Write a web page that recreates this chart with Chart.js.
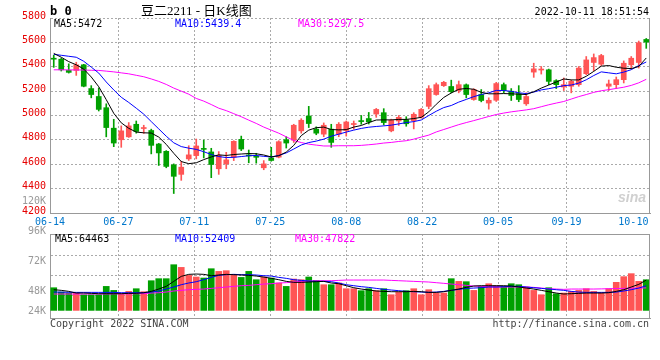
<!DOCTYPE html>
<html>
<head>
<meta charset="utf-8">
<script src="https://cdn.jsdelivr.net/npm/chart.js@4.4.1/dist/chart.umd.min.js"></script>
<style>
  body { margin: 0; background: #fff; }
  #box { position: relative; width: 660px; height: 360px; overflow: hidden; background: #fff;
         font: 10px/12px "DejaVu Sans Mono", monospace; color: #000; }
  #box canvas { position: absolute; left: 0; top: 0; }
  .t { position: absolute; white-space: pre; }
  .r { text-align: right; }
</style>
</head>
<body>
<div id="box">
  <canvas id="price" width="660" height="230"></canvas>
  <canvas id="vol" width="660" height="360"></canvas>

  <div class="t" style="left:50px;top:5px;font-weight:bold;font-size:12px">b 0</div>
  <div class="t" style="left:141px;top:4px;font:13px/14px 'Liberation Serif','Noto Sans CJK SC'">豆二2211 - 日K线图</div>
  <div class="t" style="right:11px;top:6px">2022-10-11 18:51:54</div>

  <div class="t" style="left:54px;top:18px">MA5:5472</div>
  <div class="t" style="left:175px;top:18px;color:#0000ff">MA10:5439.4</div>
  <div class="t" style="left:298px;top:18px;color:#ff00ff">MA30:5297.5</div>

  <div class="t r" style="left:0;width:46px;top:195px;color:#999">120K</div>
  <div class="t" style="left:618px;top:190px;font:italic bold 14px/14px 'Liberation Sans';color:#d0d0d0">sina</div>

  <div class="t" style="left:55px;top:233px">MA5:64463</div>
  <div class="t" style="left:175px;top:233px;color:#0000ff">MA10:52409</div>
  <div class="t" style="left:295px;top:233px;color:#ff00ff">MA30:47822</div>

  <div class="t r" style="left:0;width:46px;top:225px;color:#999">96K</div>
  <div class="t r" style="left:0;width:46px;top:255px;color:#999">72K</div>
  <div class="t r" style="left:0;width:46px;top:285px;color:#999">48K</div>
  <div class="t r" style="left:0;width:46px;top:305px;color:#999">24K</div>

  <div class="t" style="left:50px;top:318px;color:#444">Copyright 2022 SINA.COM</div>
  <div class="t" style="right:11px;top:318px;color:#444">http://finance.sina.com.cn</div>
</div>

<script>
// trading days shown on the chart
const dates = [
  '06-14','06-15','06-16','06-17','06-20','06-21','06-22','06-23','06-24','06-27',
  '06-28','06-29','06-30','07-01','07-04','07-05','07-06','07-07','07-08','07-11',
  '07-12','07-13','07-14','07-15','07-18','07-19','07-20','07-21','07-22','07-25',
  '07-26','07-27','07-28','07-29','08-01','08-02','08-03','08-04','08-05','08-08',
  '08-09','08-10','08-11','08-12','08-15','08-16','08-17','08-18','08-19','08-22',
  '08-23','08-24','08-25','08-26','08-29','08-30','08-31','09-01','09-02','09-05',
  '09-06','09-07','09-08','09-09','09-13','09-14','09-15','09-16','09-19','09-20',
  '09-21','09-22','09-23','09-26','09-27','09-28','09-29','09-30','10-10','10-11'
];
const dateTicks = ['06-14','06-27','07-11','07-25','08-08','08-22','09-05','09-19','10-10'];
const priceTicks = [4200, 4400, 4600, 4800, 5000, 5200, 5400, 5600, 5800];

const open = [
  5468,5462,5370,5370,5416,5221,5156,5064,4896,4801,
  4825,4928,4893,4877,4766,4706,4595,4517,4644,4671,
  4726,4701,4563,4603,4658,4804,4672,4660,4571,4652,
  4658,4801,4798,4874,4996,4888,4847,4888,4847,4877,
  4926,4955,4975,5012,5023,4874,4955,4965,4958,4985,
  5075,5172,5245,5238,5205,5252,5131,5172,5102,5125,
  5253,5199,5180,5096,5356,5373,5375,5286,5234,5240,
  5253,5343,5435,5421,5240,5253,5294,5416,5435,5624
];
const high = [
  5495,5470,5424,5437,5420,5245,5226,5096,4969,4915,
  4942,4955,4920,4888,4771,4712,4603,4625,4752,4807,
  4798,4731,4704,4698,4793,4831,4717,4690,4630,4739,
  4793,4826,4928,4974,5075,4907,4939,4928,4942,4955,
  4955,5000,5025,5058,5056,4970,5000,4990,5023,5058,
  5245,5267,5280,5290,5283,5259,5220,5213,5145,5272,
  5267,5221,5245,5186,5429,5402,5381,5294,5308,5291,
  5402,5484,5505,5502,5291,5316,5448,5484,5611,5632
];
const low = [
  5395,5365,5348,5329,5235,5145,5037,4825,4744,4739,
  4820,4855,4853,4685,4590,4571,4360,4468,4631,4644,
  4652,4490,4517,4563,4630,4712,4612,4609,4555,4625,
  4652,4733,4779,4855,4901,4842,4826,4739,4826,4831,
  4888,4928,4930,4985,4922,4866,4918,4912,4890,4978,
  5055,5166,5238,5186,5186,5145,5125,5112,5052,5115,
  5186,5123,5113,5083,5313,5340,5253,5221,5205,5186,
  5240,5335,5367,5410,5205,5221,5267,5383,5389,5551
];
const close = [
  5462,5375,5354,5416,5240,5172,5050,4901,4774,4874,
  4915,4869,4898,4755,4693,4582,4501,4576,4677,4750,
  4722,4598,4674,4636,4788,4725,4668,4657,4603,4631,
  4785,4774,4920,4961,4934,4855,4920,4779,4928,4947,
  4930,4950,4947,5050,4942,4960,4985,4932,5010,5050,
  5220,5253,5272,5196,5253,5172,5213,5123,5125,5262,
  5205,5164,5131,5156,5383,5378,5280,5253,5253,5280,
  5389,5456,5475,5492,5259,5294,5429,5470,5597,5603
];
const ma5 = [
  5510,5478,5442,5416,5381,5316,5236,5130,5018,4940,
  4895,4864,4858,4856,4823,4763,4690,4622,4605,4612,
  4638,4660,4677,4672,4680,4684,4688,4686,4676,4660,
  4670,4700,4755,4835,4880,4900,4905,4885,4882,4884,
  4905,4918,4942,4963,4964,4964,4968,4968,4975,4985,
  5030,5092,5148,5185,5215,5222,5215,5190,5178,5178,
  5180,5178,5175,5172,5195,5225,5250,5275,5300,5292,
  5292,5322,5362,5405,5410,5396,5388,5385,5402,5472
];
const ma10 = [
  5502,5494,5486,5478,5445,5397,5348,5275,5210,5150,
  5107,5060,5011,4950,4890,4830,4776,4745,4732,4722,
  4703,4680,4663,4655,4657,4663,4670,4672,4665,4660,
  4672,4693,4725,4758,4778,4790,4806,4830,4847,4864,
  4880,4894,4904,4910,4915,4921,4931,4942,4950,4963,
  5000,5035,5065,5082,5110,5132,5155,5172,5186,5206,
  5205,5198,5186,5180,5192,5210,5220,5232,5245,5250,
  5266,5293,5328,5358,5350,5342,5356,5376,5410,5439
];
const ma30 = [
  5375,5375,5374,5374,5373,5371,5370,5364,5358,5350,
  5342,5330,5318,5300,5280,5255,5225,5200,5175,5140,
  5118,5090,5060,5040,5015,4990,4962,4935,4905,4880,
  4855,4825,4795,4778,4765,4757,4750,4750,4752,4752,
  4752,4755,4760,4766,4774,4779,4787,4793,4806,4823,
  4839,4865,4885,4905,4925,4942,4958,4975,4992,5008,
  5020,5030,5038,5046,5056,5072,5088,5102,5115,5135,
  5155,5172,5190,5203,5212,5222,5232,5247,5268,5297
];

const volume = [
  48200,39000,36900,36900,33300,33300,33300,51000,42500,34800,
  40400,46100,39700,63100,67400,67400,97100,91400,74400,71000,
  68800,88600,82900,84400,75900,70100,82900,65200,71000,68800,
  58200,51000,66700,65200,71000,63800,54600,54600,58200,46100,
  46100,41900,46100,41900,46100,33300,38300,41900,46100,33300,
  44000,36900,36900,67400,61700,61000,42500,51000,56700,52400,
  51000,56700,54600,49600,42500,33300,48200,35500,36900,40400,
  42500,46100,40400,36900,46100,59600,71700,78100,61700,65200
];
const volMa5 = [
  44000,42600,40400,36900,36900,36200,35500,35500,35500,35500,
  36200,36200,37600,40400,45400,51100,61700,72300,76600,77300,
  76600,73700,75200,76600,75900,75200,74500,73000,70900,68100,
  65200,61700,59600,59600,60300,61000,61700,58200,56700,52500,
  48200,45400,43300,41200,40400,39700,39700,39700,40400,39700,
  38300,38300,39700,42600,45400,48900,51800,52500,52500,52500,
  52500,51800,49700,47500,45400,42600,39700,36900,34800,35500,
  36200,36900,36900,36900,37600,40400,44000,49700,55300,64463
];
const volMa10 = [
  39000,38800,38500,38300,38300,38300,38300,38300,38300,37600,
  37600,37600,37600,39000,41200,45400,49700,54600,58200,61000,
  65200,70200,74500,75900,76600,75900,75900,75200,73700,73000,
  70200,68100,65200,63800,62400,61700,61700,61000,58200,54600,
  52500,50400,48900,46800,44700,43300,41900,40400,39700,39000,
  38300,39000,40400,42600,44700,46800,47500,48200,49700,49700,
  50400,51100,51100,49700,48200,46800,45400,44000,42600,40400,
  39000,38300,38300,38300,38300,39000,41200,44000,47500,52409
];
const volMa30 = [
  34800,34800,34800,34800,34800,34800,34800,34800,35100,35100,
  35100,35500,35500,36900,37600,39000,41200,42600,44000,44700,
  45400,46800,48200,49700,51100,52500,53200,54600,56000,56700,
  58200,58900,60300,61700,62400,63100,63100,63100,63800,64500,
  64500,64500,64500,64500,64500,63800,63100,62400,61700,61000,
  60300,58900,57500,56000,54600,53200,51800,51100,50400,49700,
  49700,49700,49700,49700,48900,47500,46100,45400,44700,45400,
  45400,45400,45400,45700,46100,46400,46800,47100,47500,47822
];
// where the dotted lines of the volume panel fall
const volGrid = [32000, 74500, 117000];

const UP = '#ff5555';
const DOWN = '#00a000';
const GRID = '#aaaaaa';
const FRAME = '#999999';
const MONO = { family: 'DejaVu Sans Mono', size: 10 };

const candleColor = c => close[c.dataIndex] >= open[c.dataIndex] ? UP : DOWN;

// right edge (and optional top edge) of the plot frame
const frame = {
  id: 'frame',
  afterDraw(chart, args, opts) {
    const { ctx, chartArea: a } = chart;
    const r = Math.round(a.right) - 0.5;
    ctx.save();
    ctx.strokeStyle = FRAME;
    ctx.lineWidth = 1;
    ctx.beginPath();
    ctx.moveTo(r, Math.round(a.top));
    ctx.lineTo(r, Math.round(a.bottom));
    if (opts.top) {
      ctx.moveTo(a.left, Math.round(a.top) + 0.5);
      ctx.lineTo(a.right, Math.round(a.top) + 0.5);
    }
    ctx.stroke();
    ctx.restore();
  }
};

function maLine(data, color) {
  return { type: 'line', data: data, borderColor: color, borderWidth: 1,
           pointRadius: 0, tension: 0, fill: false, xAxisID: 'x' };
}

function dateAxis(showLabels) {
  return {
    type: 'linear', position: 'bottom', min: 0, max: dates.length - 1,
    offset: false,
    afterBuildTicks: s => { s.ticks = dateTicks.map(d => ({ value: dates.indexOf(d) })); },
    afterFit: s => { s.height = showLabels ? 17 : 0; s.paddingLeft = 0; s.paddingRight = 0; },
    ticks: {
      display: showLabels, autoSkip: false, maxRotation: 0, padding: 3,
      color: '#0077cc', font: MONO,
      callback: (v, i, t) => dates[v] + (i === t.length - 1 ? '   ' : '')
    },
    grid: {
      offset: false, drawTicks: false,
      color: c => (c.index === 0 || c.index === dateTicks.length - 1) ? 'rgba(0,0,0,0)' : GRID
    },
    border: { color: FRAME, dash: [2, 2] }
  };
}

new Chart(document.getElementById('price'), {
  type: 'bar',
  data: {
    labels: dates,
    datasets: [
      maLine(ma5, '#000000'),
      maLine(ma10, '#0000ff'),
      maLine(ma30, '#ff00ff'),
      { data: dates.map((d, i) => [open[i], close[i]]), backgroundColor: candleColor,
        barThickness: 5, minBarLength: 1, grouped: false, borderWidth: 0, xAxisID: 'x' },
      { data: dates.map((d, i) => [low[i], high[i]]), backgroundColor: candleColor,
        barThickness: 1, grouped: false, borderWidth: 0, xAxisID: 'x' }
    ]
  },
  options: {
    responsive: false,
    animation: false,
    events: [],
    layout: { padding: { top: 18, right: 10, left: 0, bottom: 0 } },
    plugins: { legend: { display: false }, tooltip: { enabled: false }, frame: { top: false } },
    scales: {
      x: { type: 'category', display: false, offset: true },
      xd: dateAxis(true),
      y: {
        min: priceTicks[0], max: priceTicks[priceTicks.length - 1],
        afterBuildTicks: s => { s.ticks = priceTicks.map(v => ({ value: v })); },
        afterFit: s => { s.width = 50; s.paddingTop = 0; s.paddingBottom = 0; },
        ticks: { color: '#e60000', padding: 4, labelOffset: -2, font: MONO, callback: v => String(v) },
        grid: { drawTicks: false, color: GRID },
        border: { color: FRAME, dash: [2, 2] }
      }
    }
  },
  plugins: [frame]
});

new Chart(document.getElementById('vol'), {
  type: 'bar',
  data: {
    labels: dates,
    datasets: [
      maLine(volMa5, '#000000'),
      maLine(volMa10, '#0000ff'),
      maLine(volMa30, '#ff00ff'),
      { data: volume, backgroundColor: candleColor, barThickness: 6, borderWidth: 0, xAxisID: 'x' }
    ]
  },
  options: {
    responsive: false,
    animation: false,
    events: [],
    layout: { padding: { top: 234, right: 10, left: 0, bottom: 42 } },
    plugins: { legend: { display: false }, tooltip: { enabled: false }, frame: { top: true } },
    scales: {
      x: { type: 'category', display: false, offset: true },
      xd: dateAxis(false),
      y: {
        min: -16150, max: 162350,
        afterBuildTicks: s => { s.ticks = volGrid.map(v => ({ value: v })); },
        afterFit: s => { s.width = 50; s.paddingTop = 0; s.paddingBottom = 0; },
        ticks: { display: false },
        grid: { drawTicks: false, color: GRID },
        border: { color: FRAME, dash: [2, 2] }
      }
    }
  },
  plugins: [frame]
});
</script>
</body>
</html>
